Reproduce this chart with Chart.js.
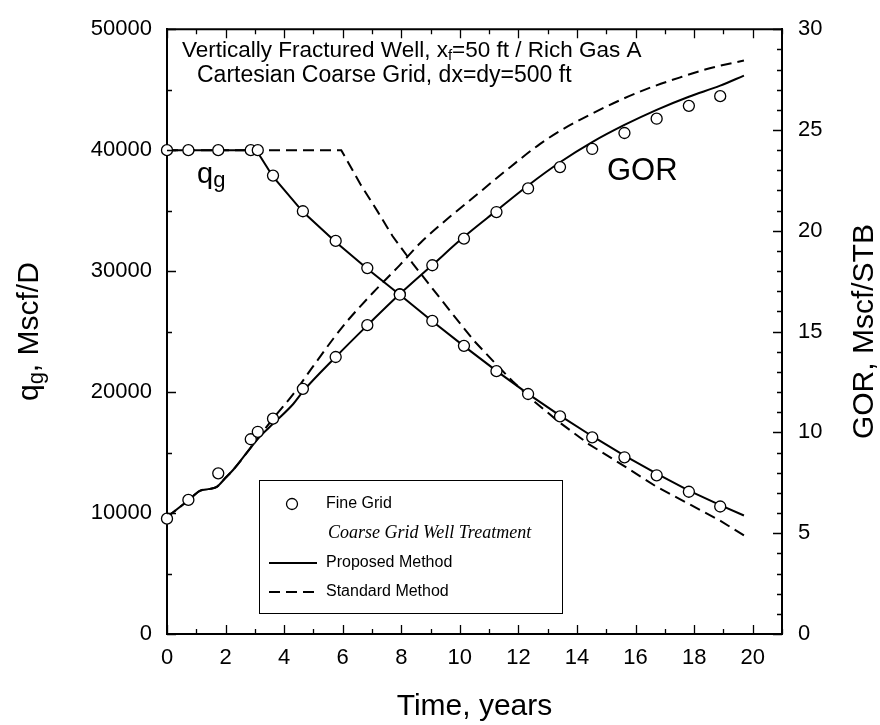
<!DOCTYPE html>
<html>
<head>
<meta charset="utf-8">
<script src="https://cdn.jsdelivr.net/npm/chart.js@4.4.1/dist/chart.umd.min.js"></script>
<style>
  html, body { margin: 0; padding: 0; background: #fff; }
</style>
</head>
<body>
<canvas id="gorchart" width="880" height="725"></canvas>
<script>
// fine grid results (circles)
const fineTime = [0, 0.73, 1.75, 2.86, 3.1, 3.62, 4.64, 5.76, 6.84, 7.95, 9.06, 10.14, 11.25, 12.33, 13.42, 14.52, 15.62, 16.72, 17.82, 18.89];
const fineRate = [40000, 40000, 40000, 40000, 40000, 37900, 34950, 32500, 30250, 28050, 25880, 23820, 21730, 19840, 17990, 16260, 14610, 13120, 11760, 10540];
const fineGor = [5.72, 6.65, 7.97, 9.66, 10.03, 10.68, 12.16, 13.74, 15.32, 16.86, 18.29, 19.61, 20.93, 22.1, 23.16, 24.06, 24.85, 25.56, 26.2, 26.68];

// proposed method (solid)
const propRateTime = [0, 3.05, 3.62, 4.64, 5.76, 6.84, 7.95, 9.06, 10.14, 11.25, 12.33, 13.42, 14.52, 15.62, 16.72, 17.82, 18.89, 19.7];
const propRate = [40000, 40000, 37800, 34900, 32400, 30200, 28050, 25850, 23800, 21750, 19850, 18050, 16350, 14750, 13250, 11850, 10650, 9800];
const propGorTime = [0, 0.73, 1.12, 1.47, 1.7, 2.0, 2.27, 2.72, 3.17, 3.63, 4.31, 4.66, 5.76, 6.85, 7.95, 9.06, 10.14, 11.25, 12.33, 13.42, 14.52, 15.62, 16.72, 17.82, 18.89, 19.7];
const propGor = [5.8, 6.63, 7.1, 7.2, 7.3, 7.75, 8.16, 8.98, 9.79, 10.44, 11.41, 12.06, 13.74, 15.32, 16.86, 18.3, 19.7, 21.0, 22.25, 23.4, 24.4, 25.25, 26.0, 26.65, 27.2, 27.7];

// standard method (dashed)
const stdRateTime = [0, 5.95, 6.6, 7.2, 7.7, 8.4, 9.1, 9.8, 10.5, 11.2, 11.8, 12.5, 13.4, 14.4, 15.6, 16.7, 17.9, 18.9, 19.7];
const stdRate = [40000, 40000, 37200, 34900, 32900, 30600, 28450, 26300, 24200, 22400, 20900, 19300, 17500, 15700, 13900, 12200, 10650, 9350, 8150];
const stdGorTime = [0, 0.73, 1.12, 1.47, 1.7, 2.0, 2.27, 2.72, 3.17, 3.63, 4.31, 5.0, 5.69, 6.13, 7.04, 7.95, 8.64, 9.5, 10.5, 11.5, 12.73, 13.53, 14.5, 15.5, 16.5, 17.5, 18.5, 19.7];
const stdGor = [5.8, 6.63, 7.1, 7.2, 7.3, 7.75, 8.16, 8.98, 9.85, 10.7, 11.9, 13.3, 14.67, 15.48, 16.94, 18.3, 19.38, 20.5, 21.7, 22.9, 24.3, 25.05, 25.8, 26.5, 27.1, 27.6, 28.05, 28.45];

// tick labels
const timeLabels = [0, 2, 4, 6, 8, 10, 12, 14, 16, 18, 20];
const rateLabels = [0, 10000, 20000, 30000, 40000, 50000];
const gorLabels = [0, 5, 10, 15, 20, 25, 30];

const SANS = '"Liberation Sans", Arial, Helvetica, sans-serif';
const SERIF = '"Liberation Serif", "Times New Roman", serif';

function pts(xs, ys) {
  return xs.map((x, i) => ({ x: x, y: ys[i] }));
}

// draw a run of text pieces [text, size, dy] starting at x
function runText(ctx, parts, x, y, measureOnly) {
  let cx = x;
  parts.forEach(p => {
    ctx.font = p[1] + 'px ' + SANS;
    if (!measureOnly) ctx.fillText(p[0], cx, y + p[2]);
    cx += ctx.measureText(p[0]).width;
  });
  return cx - x;
}

const frameTicks = {
  id: 'frameTicks',
  afterDraw(chart) {
    const ctx = chart.ctx;
    const a = chart.chartArea;
    const sx = chart.scales.x, sy = chart.scales.y, sy1 = chart.scales.y1;
    ctx.save();
    ctx.strokeStyle = '#000';
    ctx.lineWidth = 2;
    ctx.beginPath();
    ctx.moveTo(a.left - 1, a.top);
    ctx.lineTo(a.right + 1, a.top);
    ctx.stroke();

    ctx.lineWidth = 1.3;
    ctx.beginPath();
    sx.ticks.forEach(t => {
      const px = Math.round(sx.getPixelForValue(t.value)) + 0.5;
      const len = timeLabels.includes(t.value) ? 9 : 5;
      ctx.moveTo(px, a.bottom); ctx.lineTo(px, a.bottom - len);
      ctx.moveTo(px, a.top); ctx.lineTo(px, a.top + len);
    });
    sy.ticks.forEach(t => {
      const py = Math.round(sy.getPixelForValue(t.value)) + 0.5;
      const len = rateLabels.includes(t.value) ? 9 : 5;
      ctx.moveTo(a.left, py); ctx.lineTo(a.left + len, py);
    });
    sy1.ticks.forEach(t => {
      const py = Math.round(sy1.getPixelForValue(t.value)) + 0.5;
      const len = gorLabels.includes(t.value) ? 9 : 5;
      ctx.moveTo(a.right, py); ctx.lineTo(a.right - len, py);
    });
    ctx.stroke();
    ctx.restore();
  }
};

const labelsPlugin = {
  id: 'labelsPlugin',
  afterDraw(chart) {
    const ctx = chart.ctx;
    const a = chart.chartArea;
    const cy = (a.top + a.bottom) / 2;
    ctx.save();
    ctx.fillStyle = '#000';
    ctx.textBaseline = 'alphabetic';
    ctx.textAlign = 'left';

    // axis titles
    ctx.font = '30px ' + SANS;
    const tw = ctx.measureText('Time, years').width;
    ctx.fillText('Time, years', (a.left + a.right) / 2 - tw / 2, 715);

    const leftTitle = [['q', 30, 0], ['g', 22, 5], [', Mscf/D', 30, 0]];
    ctx.save();
    ctx.translate(27, cy);
    ctx.rotate(-Math.PI / 2);
    const lw = runText(ctx, leftTitle, 0, 0, true);
    runText(ctx, leftTitle, -lw / 2, 11, false);
    ctx.restore();

    ctx.save();
    ctx.translate(862, cy);
    ctx.rotate(-Math.PI / 2);
    ctx.font = '30px ' + SANS;
    const rw = ctx.measureText('GOR, Mscf/STB').width;
    ctx.fillText('GOR, Mscf/STB', -rw / 2, 11);
    ctx.restore();

    // case description
    runText(ctx, [['Vertically Fractured Well, x', 22.5, 0], ['f', 15, 3], ['=50 ft / Rich Gas A', 22.5, 0]], 182, 57);
    runText(ctx, [['Cartesian Coarse Grid, dx=dy=500 ft', 23, 0]], 197, 82);

    // curve labels
    runText(ctx, [['q', 29, 0], ['g', 22, 4]], 197, 183);
    runText(ctx, [['GOR', 31, 0]], 607, 180);

    // legend
    ctx.fillStyle = '#fff';
    ctx.fillRect(259.5, 480.5, 303, 133);
    ctx.strokeStyle = '#000';
    ctx.lineWidth = 1;
    ctx.strokeRect(259.5, 480.5, 303, 133);

    ctx.beginPath();
    ctx.arc(292, 504, 5.5, 0, Math.PI * 2);
    ctx.fillStyle = '#fff';
    ctx.fill();
    ctx.lineWidth = 1.3;
    ctx.stroke();

    ctx.lineWidth = 2;
    ctx.beginPath();
    ctx.moveTo(269, 563); ctx.lineTo(317, 563);
    ctx.stroke();
    ctx.setLineDash([11, 6]);
    ctx.beginPath();
    ctx.moveTo(269, 592); ctx.lineTo(320, 592);
    ctx.stroke();
    ctx.setLineDash([]);

    ctx.fillStyle = '#000';
    ctx.textBaseline = 'middle';
    ctx.font = '16px ' + SANS;
    ctx.fillText('Fine Grid', 326, 504);
    ctx.fillText('Proposed Method', 326, 563);
    ctx.fillText('Standard Method', 326, 592);
    ctx.font = 'italic 18px ' + SERIF;
    ctx.fillText('Coarse Grid Well Treatment', 328, 533);
    ctx.restore();
  }
};

const pointStyle = {
  showLine: false,
  pointRadius: 5.5,
  pointHoverRadius: 5.5,
  pointBackgroundColor: '#fff',
  pointBorderColor: '#000',
  pointBorderWidth: 1.3,
  clip: false
};

function lineStyle(dashed, smooth) {
  const s = {
    showLine: true,
    borderColor: '#000',
    borderWidth: 2,
    borderDash: dashed ? [11, 6] : [],
    pointRadius: 0,
    tension: 0,
    clip: false
  };
  if (smooth) s.cubicInterpolationMode = 'monotone';
  return s;
}

const data = {
  datasets: [
    Object.assign({ label: 'Fine Grid qg', data: pts(fineTime, fineRate), yAxisID: 'y' }, pointStyle),
    Object.assign({ label: 'Fine Grid GOR', data: pts(fineTime, fineGor), yAxisID: 'y1' }, pointStyle),
    Object.assign({ label: 'Proposed qg', data: pts(propRateTime, propRate), yAxisID: 'y' }, lineStyle(false, false)),
    Object.assign({ label: 'Proposed GOR', data: pts(propGorTime, propGor), yAxisID: 'y1' }, lineStyle(false, true)),
    Object.assign({ label: 'Standard qg', data: pts(stdRateTime, stdRate), yAxisID: 'y' }, lineStyle(true, false)),
    Object.assign({ label: 'Standard GOR', data: pts(stdGorTime, stdGor), yAxisID: 'y1' }, lineStyle(true, true))
  ]
};

const tickFont = { family: SANS, size: 22 };

const config = {
  type: 'scatter',
  data: data,
  options: {
    responsive: false,
    animation: false,
    devicePixelRatio: 1,
    layout: { padding: { top: 19, left: 0, right: 0, bottom: 0 } },
    plugins: {
      legend: { display: false },
      tooltip: { enabled: false }
    },
    scales: {
      x: {
        type: 'linear',
        min: 0,
        max: 21,
        grid: { display: false, drawTicks: false },
        border: { display: true, color: '#000', width: 2 },
        ticks: {
          stepSize: 1,
          autoSkip: false,
          maxRotation: 0,
          padding: 11,
          color: '#000',
          font: tickFont,
          callback: v => timeLabels.includes(v) ? String(v) : ''
        },
        afterFit: s => { s.height = 91; }
      },
      y: {
        type: 'linear',
        position: 'left',
        min: 0,
        max: 50000,
        grid: { display: false, drawTicks: false },
        border: { display: true, color: '#000', width: 2 },
        ticks: {
          stepSize: 5000,
          autoSkip: false,
          padding: 15,
          color: '#000',
          font: tickFont,
          callback: v => rateLabels.includes(v) ? String(v) : ''
        },
        afterFit: s => { s.width = 167; }
      },
      y1: {
        type: 'linear',
        position: 'right',
        min: 0,
        max: 30,
        grid: { display: false, drawTicks: false },
        border: { display: true, color: '#000', width: 2 },
        ticks: {
          stepSize: 1,
          autoSkip: false,
          padding: 16,
          color: '#000',
          font: tickFont,
          callback: v => gorLabels.includes(v) ? String(v) : ''
        },
        afterFit: s => { s.width = 98; }
      }
    }
  },
  plugins: [frameTicks, labelsPlugin]
};

const ctx = document.getElementById('gorchart').getContext('2d');
const chart = new Chart(ctx, config);
</script>
</body>
</html>
